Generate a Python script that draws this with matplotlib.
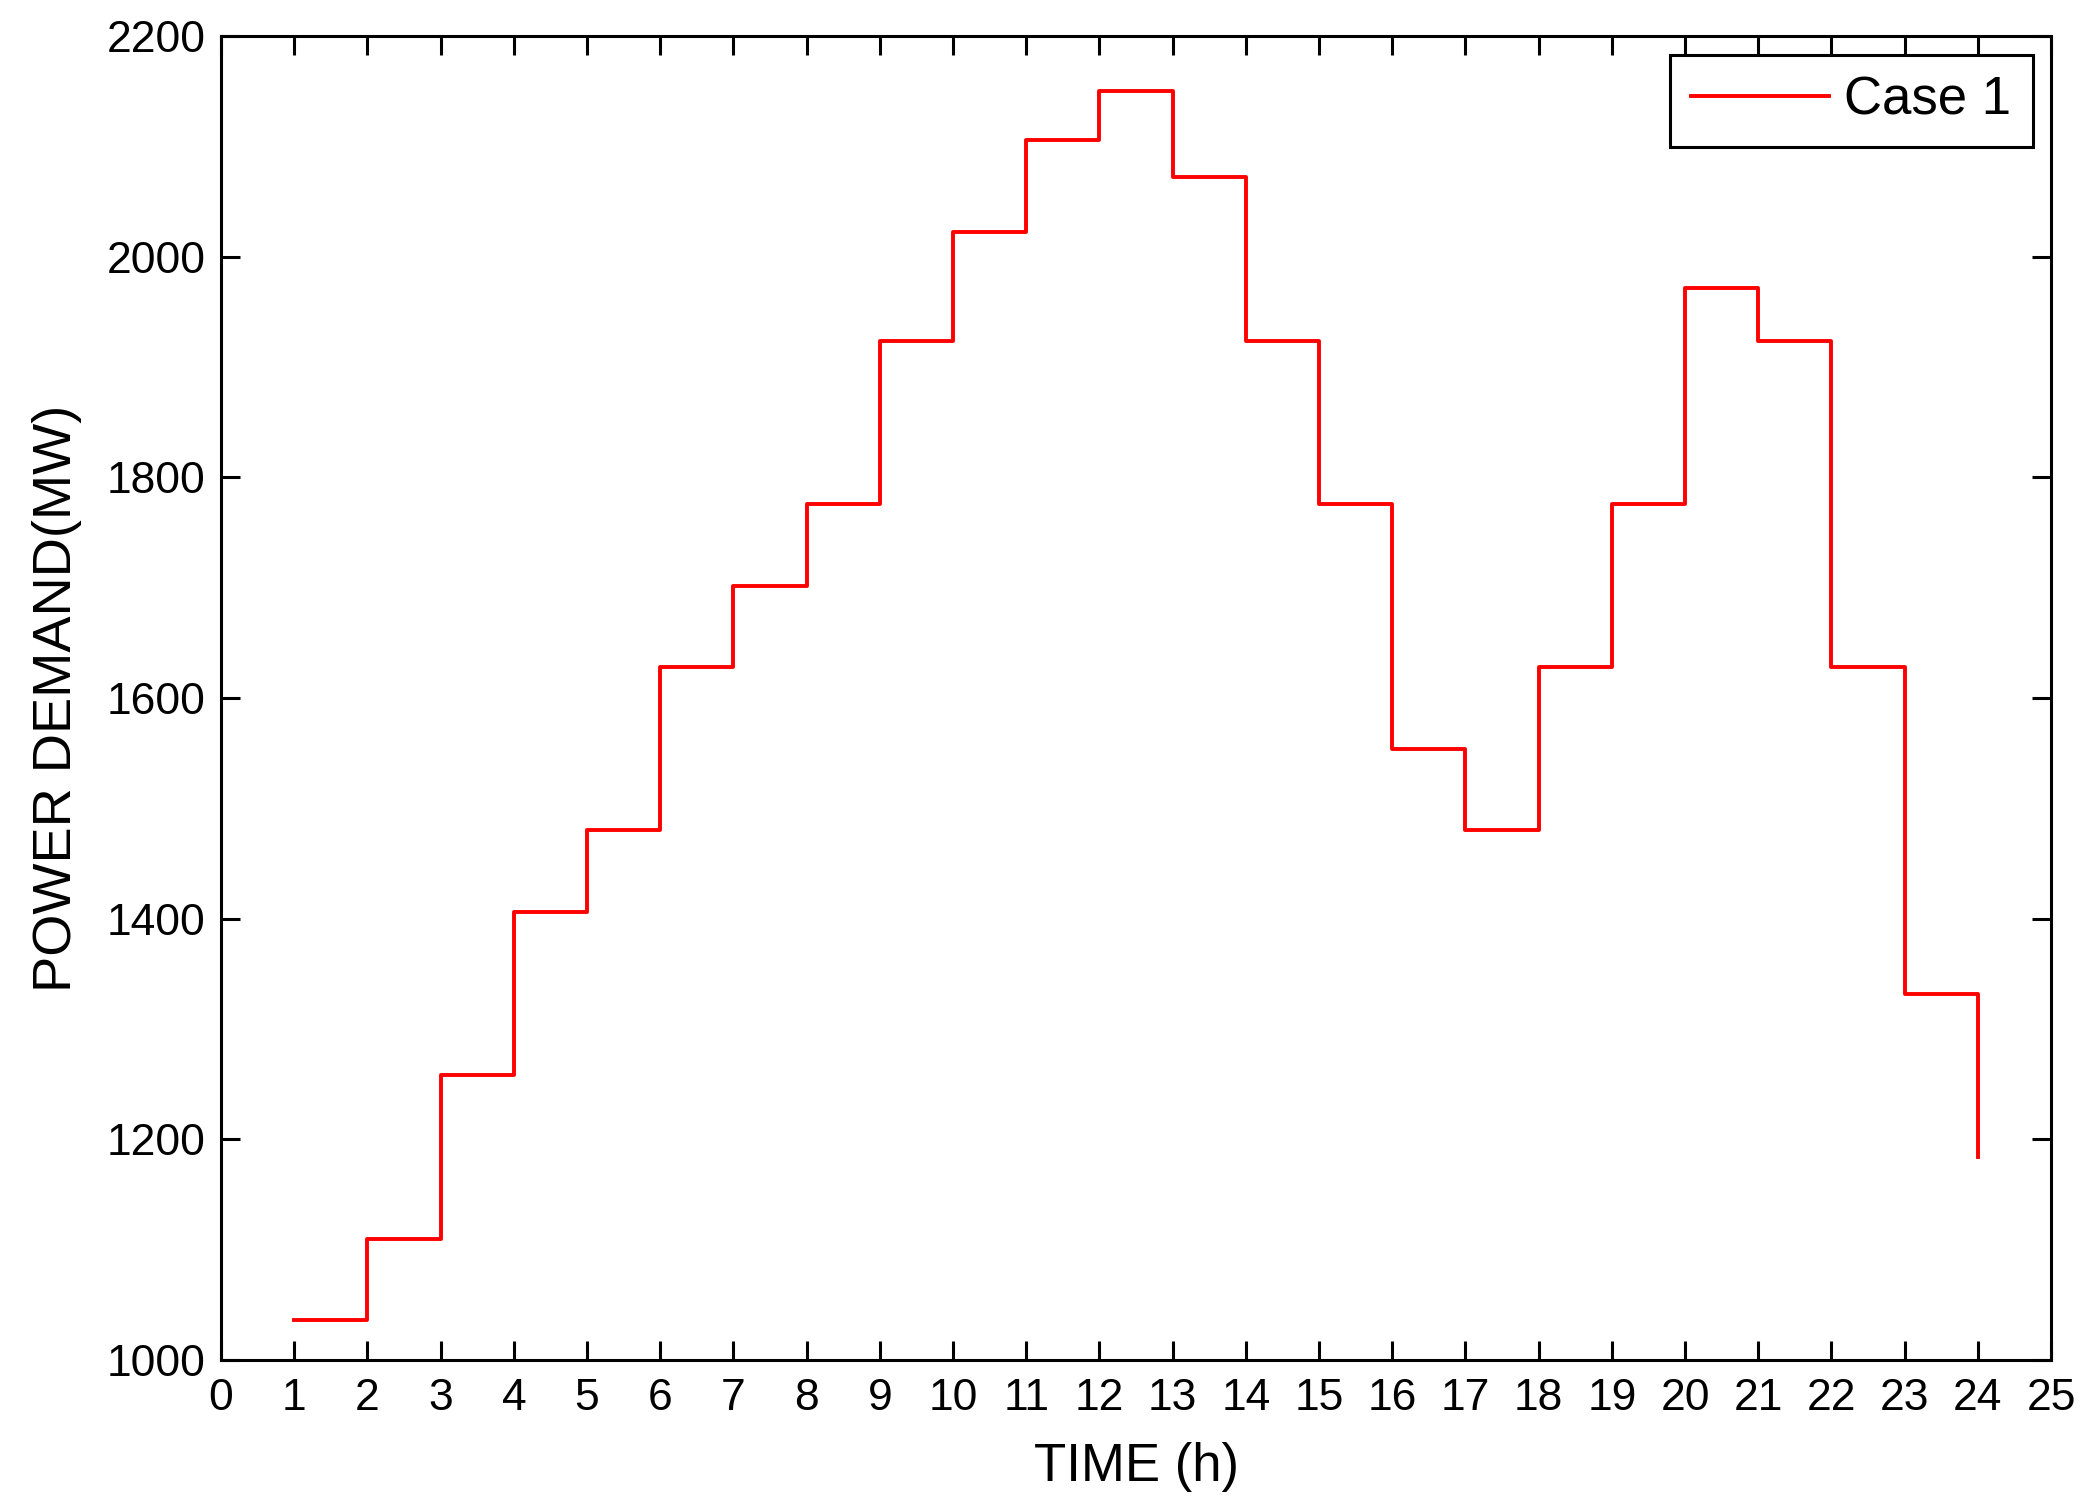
import numpy as np
import matplotlib.pyplot as plt

# hourly demand (MW)
hours = np.arange(1, 25)
demand = [1036, 1110, 1258, 1406, 1480, 1628, 1702, 1776, 1924, 2022, 2106, 2150,
          2072, 1924, 1776, 1554, 1480, 1628, 1776, 1972, 1924, 1628, 1332, 1184]

xticks = np.arange(0, 26)
yticks = np.arange(1000, 2201, 200)

plt.rcParams['font.family'] = ['Liberation Sans', 'DejaVu Sans']

fig = plt.figure(figsize=(20.91, 15.08), dpi=100)
ax = fig.add_axes([0.1057, 0.0981, 0.8752, 0.8780])

ax.plot(hours, demand, drawstyle='steps-post', color='red', lw=2.8, label='Case 1')

ax.set_xlim(0, 25)
ax.set_ylim(1000, 2200)
ax.set_xticks(xticks)
ax.set_yticks(yticks)

for s in ax.spines.values():
    s.set_linewidth(2.2)
ax.tick_params(direction='in', top=True, right=True, length=14, width=2.2,
               labelsize=32)
ax.tick_params(axis='x', pad=13)
ax.tick_params(axis='y', pad=11)

ax.set_xlabel('TIME (h)', fontsize=38)
ax.set_ylabel('POWER DEMAND(MW)', fontsize=39)
ax.xaxis.set_label_coords(0.5, -0.062)
ax.yaxis.set_label_coords(-0.076, 0.5)

leg = ax.legend(loc='upper right', fontsize=38, fancybox=False, framealpha=1,
                edgecolor='black', handlelength=2.6, borderaxespad=0.35,
                borderpad=0.4, handletextpad=0.3)
leg.get_frame().set_linewidth(2.2)

fig.savefig('out.png', dpi=100)
